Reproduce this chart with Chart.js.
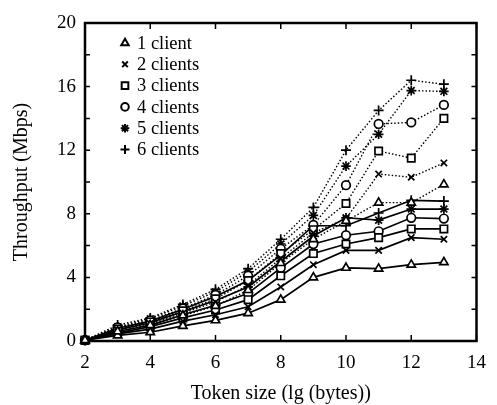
<!DOCTYPE html>
<html>
<head>
<meta charset="utf-8">
<script src="https://cdn.jsdelivr.net/npm/chart.js@4.4.1/dist/chart.umd.min.js"></script>
<style>
  body { margin: 0; background: #fff; }
</style>
</head>
<body>
<canvas id="throughput" width="497" height="405"></canvas>
<script>
// token size, lg(bytes)
const tokenSizes = [2, 3, 4, 5, 6, 7, 8, 9, 10, 11, 12, 13];

const clientLabels = ["1 client", "2 clients", "3 clients", "4 clients", "5 clients", "6 clients"];

// solid lines
const solid1 = [0.05, 0.35, 0.55, 0.95, 1.3, 1.75, 2.6, 4.0, 4.6, 4.55, 4.8, 4.95];
const solid2 = [0.05, 0.45, 0.75, 1.25, 1.65, 2.15, 3.4, 4.8, 5.7, 5.7, 6.5, 6.4];
const solid3 = [0.05, 0.5, 0.9, 1.45, 1.95, 2.6, 4.1, 5.5, 6.1, 6.5, 7.05, 7.05];
const solid4 = [0.05, 0.6, 1.0, 1.65, 2.25, 3.0, 4.6, 6.1, 6.65, 6.9, 7.75, 7.7];
const solid5 = [0.05, 0.7, 1.15, 1.85, 2.55, 3.4, 5.0, 6.6, 7.75, 7.6, 8.3, 8.3];
const solid6 = [0.05, 0.8, 1.25, 2.0, 2.8, 3.8, 5.4, 7.25, 7.25, 8.05, 8.85, 8.8];

// dotted lines
const dotted1 = [0.05, 0.6, 1.0, 1.6, 2.2, 3.2, 4.9, 6.4, 7.55, 8.7, 8.7, 9.85];
const dotted2 = [0.05, 0.7, 1.1, 1.75, 2.45, 3.5, 5.2, 6.8, 7.7, 10.5, 10.3, 11.2];
const dotted3 = [0.05, 0.75, 1.2, 1.9, 2.65, 3.8, 5.5, 7.0, 8.65, 11.95, 11.5, 14.0];
const dotted4 = [0.05, 0.85, 1.3, 2.05, 2.9, 4.1, 5.8, 7.3, 9.8, 13.65, 13.75, 14.85];
const dotted5 = [0.05, 0.9, 1.4, 2.2, 3.1, 4.35, 6.1, 7.9, 11.0, 13.0, 15.75, 15.7];
const dotted6 = [0.05, 1.0, 1.45, 2.3, 3.25, 4.55, 6.4, 8.4, 12.0, 14.5, 16.4, 16.15];

const markers = ["triangle", "crossRot", "rect", "circle", "star", "cross"];
const markerSize = [4.8, 4.5, 5.2, 4.3, 4.8, 5];

const solidSeries = [solid1, solid2, solid3, solid4, solid5, solid6];
const dottedSeries = [dotted1, dotted2, dotted3, dotted4, dotted5, dotted6];

const FONT = "'Liberation Serif', 'Times New Roman', serif";

function toPoints(values) {
  return values.map((v, i) => ({ x: tokenSizes[i], y: v }));
}

function makeSet(values, i, dashed) {
  return {
    label: clientLabels[i],
    data: toPoints(values),
    borderColor: "#000",
    borderWidth: dashed ? 1.4 : 1.7,
    borderDash: dashed ? [1.5, 2] : [],
    pointStyle: markers[i],
    pointRadius: markerSize[i],
    pointBorderWidth: 1.7,
    pointBackgroundColor: "#fff",
    pointBorderColor: "#000",
    tension: 0,
    clip: false,
  };
}

const datasets = [];
dottedSeries.forEach((s, i) => datasets.push(makeSet(s, i, true)));
solidSeries.forEach((s, i) => datasets.push(makeSet(s, i, false)));

// frame + inward ticks
const framePlugin = {
  id: "frame",
  beforeDatasetsDraw(chart) {
    const { ctx, chartArea: a } = chart;
    const xs = chart.scales.x, ys = chart.scales.y;
    ctx.save();
    ctx.strokeStyle = "#000";
    ctx.lineWidth = 1.5;
    xs.ticks.forEach(t => {
      const px = xs.getPixelForValue(t.value);
      ctx.beginPath();
      ctx.moveTo(px, a.bottom); ctx.lineTo(px, a.bottom - 6);
      ctx.moveTo(px, a.top); ctx.lineTo(px, a.top + 6);
      ctx.stroke();
    });
    ys.ticks.forEach(t => {
      const py = ys.getPixelForValue(t.value);
      ctx.beginPath();
      ctx.moveTo(a.left, py); ctx.lineTo(a.left + 5, py);
      ctx.moveTo(a.right, py); ctx.lineTo(a.right - 5, py);
      ctx.stroke();
    });
    ctx.lineWidth = 2.5;
    ctx.strokeRect(a.left, a.top, a.right - a.left, a.bottom - a.top);
    ctx.restore();
  },
};

// legend in the top-left of the plot, markers only
const legendPlugin = {
  id: "markerLegend",
  afterDraw(chart) {
    const { ctx, chartArea: a } = chart;
    ctx.save();
    ctx.font = "18.5px " + FONT;
    ctx.textBaseline = "middle";
    clientLabels.forEach((lab, i) => {
      const y = a.top + 20 + i * 21.3;
      const x = a.left + 40;
      ctx.strokeStyle = "#000";
      ctx.fillStyle = "#fff";
      ctx.lineWidth = 2;
      Chart.helpers.drawPoint(ctx, {
        pointStyle: markers[i],
        radius: markerSize[i] - 0.5,
        rotation: 0,
        borderWidth: 2,
      }, x, y);
      ctx.fillStyle = "#000";
      ctx.fillText(lab, x + 12, y + 1);
    });
    ctx.restore();
  },
};

new Chart(document.getElementById("throughput"), {
  type: "line",
  data: { datasets: datasets },
  options: {
    responsive: false,
    animation: false,
    layout: { padding: { top: 23, right: 10, left: 0, bottom: 0 } },
    plugins: {
      legend: { display: false },
      tooltip: { enabled: false },
    },
    scales: {
      x: {
        type: "linear",
        min: 2,
        max: 14,
        grid: { display: false, drawTicks: false },
        border: { display: false },
        ticks: {
          stepSize: 2,
          padding: 11,
          color: "#000",
          font: { family: FONT, size: 19 },
          maxRotation: 0,
        },
        title: {
          display: true,
          text: "Token size (lg (bytes))",
          color: "#000",
          font: { family: FONT, size: 20, lineHeight: 1 },
          padding: { top: 0, bottom: 1 },
        },
        afterFit(s) { s.height = 64; },
      },
      y: {
        min: 0,
        max: 20,
        grid: { display: false, drawTicks: false },
        border: { display: false },
        ticks: {
          stepSize: 2,
          padding: 9,
          color: "#000",
          font: { family: FONT, size: 19 },
          callback: v => (v % 4 === 0 ? v : ""),
        },
        title: {
          display: true,
          text: "Throughput (Mbps)",
          color: "#000",
          font: { family: FONT, size: 20, lineHeight: 1 },
          padding: { top: 12, bottom: 0 },
        },
        afterFit(s) { s.width = 85; },
      },
    },
  },
  plugins: [framePlugin, legendPlugin],
});
</script>
</body>
</html>
